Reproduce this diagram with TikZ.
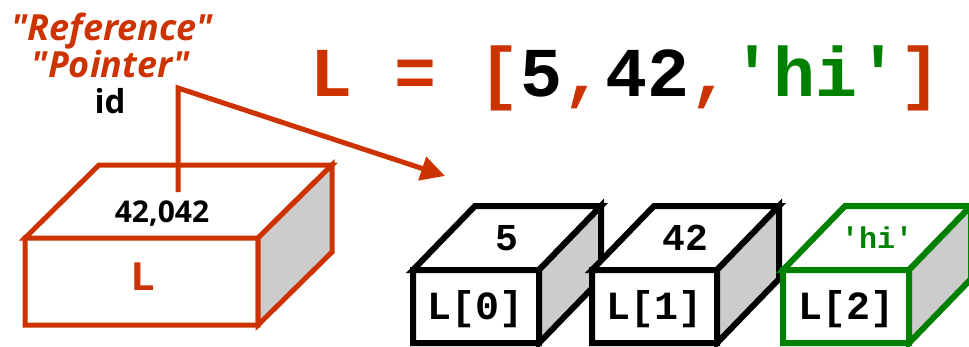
\documentclass[tikz,border=0pt]{standalone}
\usepackage{fontspec}
\setmainfont{Open Sans}[Ligatures=TeXOff]
\setmonofont{Liberation Mono}
\usetikzlibrary{arrows.meta,positioning}
\definecolor{refred}{RGB}{204,51,0}
\definecolor{valgreen}{RGB}{0,128,0}
\definecolor{sidegray}{RGB}{204,204,204}
% #1,#2 front top-left, #3 width, #4 height, #5,#6 depth, #7 colour
\newcommand{\memcell}[7]{%
  \filldraw[draw=#7, fill=white] (#1,#2) rectangle ++(#3,#4)
    (#1,#2) -- ++(#5,#6) -- ++(#3,0) -- ++(-#5,-#6) -- cycle;
  \filldraw[draw=#7, fill=sidegray] (#1+#3,#2) -- ++(#5,#6) -- ++(0,#4) -- ++(-#5,-#6) -- cycle;
}

\begin{document}
\begin{tikzpicture}[x=1pt, y=-1pt,
  codetext/.style={font=\ttfamily\bfseries\fontsize{#1}{#1}\selectfont},
  labeltext/.style={font=\bfseries\itshape\fontsize{36}{36}\selectfont, text=refred, anchor=base},
  pointer/.style={draw=refred, line width=5pt, -{Triangle[length=24pt,width=24pt]}}]
\useasboundingbox (0,0) rectangle (969,346);

% the variable
\begin{scope}[line width=5pt]
\memcell{25}{238}{233}{87}{74}{-73}{refred}
\end{scope}
\node[font=\bfseries\fontsize{30}{30}\selectfont] (addr) at (162,214) {42,042};
\node[codetext=42, text=refred] (var) at (143,277) {L};

% the list cells
\begin{scope}[line width=6pt]
\foreach \i/\x/\w/\val/\col/\fs in {0/413/126/5/black/38, 1/592/125/42/black/38, 2/783/126/{'hi'}/valgreen/30} {
  \memcell{\x}{270}{\w}{73}{62}{-64}{\col}
  \node[codetext=\fs, text=\col] (val\i) at (\x+\w/2+31,238) {\val};
  \node[codetext=40] (cell\i) at (\x+\w/2,309) {L[\i]};
}
\end{scope}

% labels
\node[labeltext] (ref) at (112,40) {"Reference"};
\node[labeltext] (ptr) at (111,77) {"Pointer"};
\node[font=\bfseries\fontsize{33}{33}\selectfont, anchor=base] (id) at (110,113) {id};
\node[codetext=70, text=refred, anchor=base] (eq) at (626,96)
  {L = [{\color{black}5},{\color{black}42},{\color{valgreen}'hi'}]};

\coordinate (start) at (178,192);
\coordinate (bend) at (178,88);
\coordinate (tip) at (445,176);
\draw[pointer] (start) -- (bend) -- (tip);
\end{tikzpicture}
\end{document}
